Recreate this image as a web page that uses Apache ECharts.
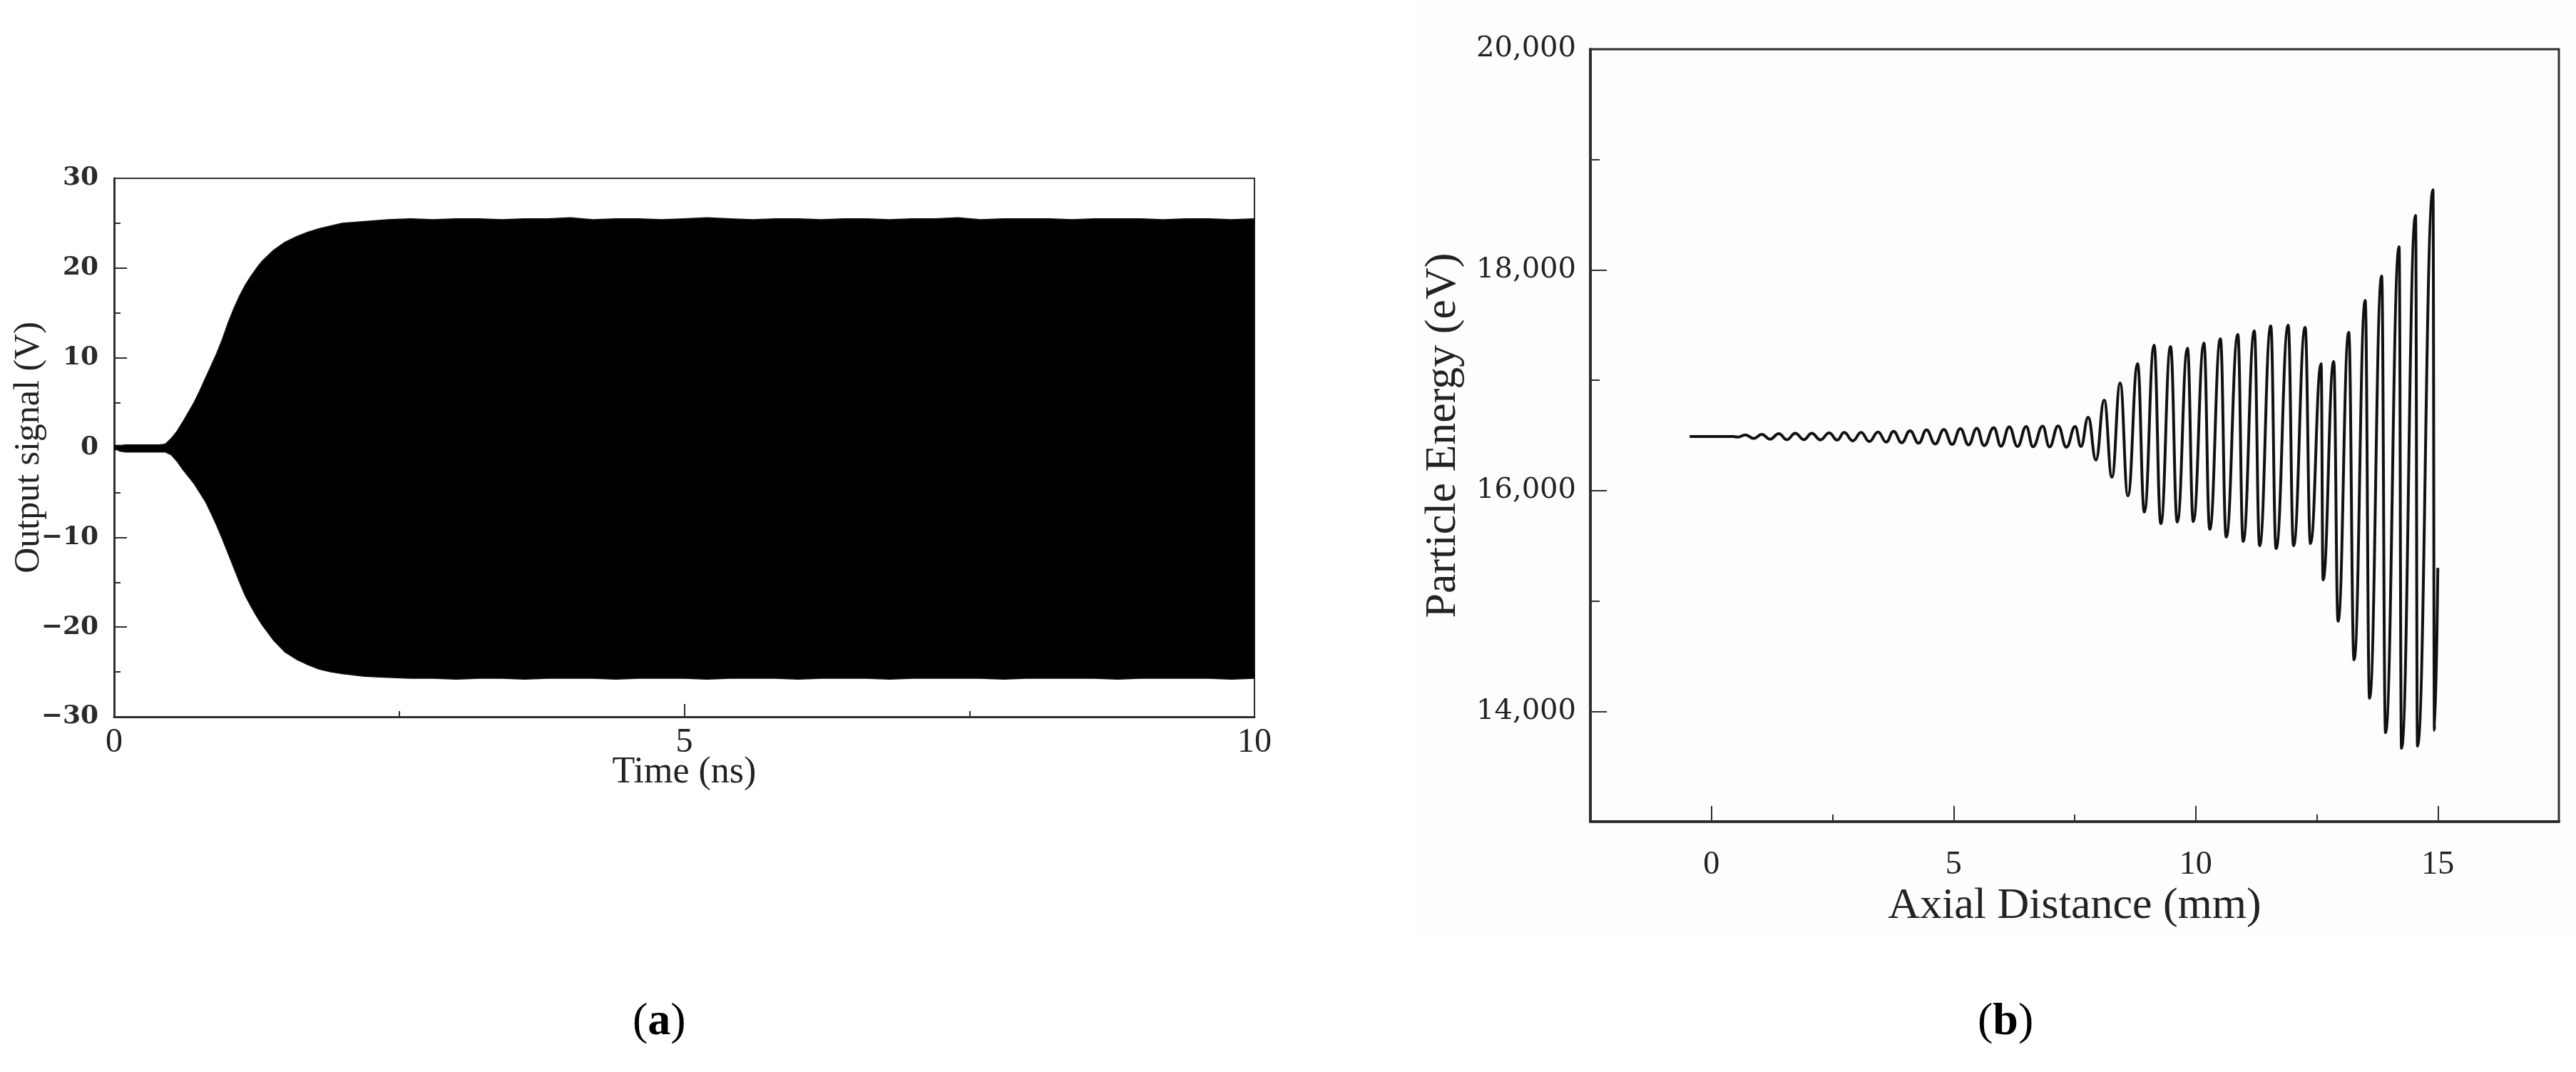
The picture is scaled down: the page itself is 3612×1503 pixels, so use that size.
<!DOCTYPE html>
<html>
<head>
<meta charset="utf-8">
<script src="https://cdn.jsdelivr.net/npm/echarts@6/dist/echarts.min.js"></script>
<style>
html,body{margin:0;padding:0;background:#fff;}
#chart{width:3612px;height:1503px;}
</style>
</head>
<body>
<div id="chart"></div>
<script>
// ---------- Panel (a): output signal envelope ----------
const aTime = [0,0.05,0.1,0.2,0.3,0.4,0.45,0.5,0.55,0.6,0.65,0.7,0.75,0.8,0.85,0.9,0.95,1.0,1.05,1.1,1.15,1.2,1.25,1.3,1.4,1.5,1.6,1.7,1.8,1.9,2.0,2.2,2.4,
  2.6,2.8,3.0,3.2,3.4,3.6,3.8,4.0,4.2,4.4,4.6,4.8,5.0,5.2,5.4,5.6,5.8,6.0,6.2,6.4,6.6,6.8,7.0,7.2,7.4,7.6,7.8,8.0,8.2,8.4,8.6,8.8,9.0,9.2,9.4,9.6,9.8,10.0];
const aUpper = [0,0.2,0.3,0.3,0.3,0.3,0.4,1.0,1.8,2.8,3.9,5.0,6.3,7.7,9.1,10.5,12.1,13.9,15.5,16.9,18.1,19.1,20.0,20.8,22.0,22.9,23.5,24.0,24.4,24.7,25.0,25.2,25.4,
  25.5,25.4,25.5,25.5,25.4,25.5,25.5,25.6,25.4,25.5,25.5,25.4,25.5,25.6,25.5,25.4,25.5,25.5,25.4,25.5,25.5,25.4,25.5,25.5,25.6,25.4,25.5,25.5,25.5,25.4,25.5,25.5,25.5,25.4,25.5,25.5,25.4,25.5];
const aLower = [0,-0.4,-0.5,-0.5,-0.5,-0.5,-0.5,-0.8,-1.5,-2.4,-3.2,-4.0,-5.0,-6.0,-7.3,-8.7,-10.2,-11.8,-13.4,-15.0,-16.5,-17.7,-18.8,-19.8,-21.5,-22.8,-23.6,-24.2,-24.7,-25.0,-25.2,-25.5,-25.6,
  -25.7,-25.7,-25.8,-25.7,-25.7,-25.8,-25.7,-25.7,-25.7,-25.8,-25.7,-25.7,-25.7,-25.8,-25.7,-25.7,-25.7,-25.8,-25.7,-25.7,-25.7,-25.8,-25.7,-25.7,-25.7,-25.7,-25.8,-25.7,-25.7,-25.7,-25.7,-25.8,-25.7,-25.7,-25.7,-25.7,-25.8,-25.7];
const aXTicks = [0, 5, 10];
const aYTicks = [-30, -20, -10, 0, 10, 20, 30];

// ---------- Panel (b): particle energy vs axial distance ----------
const bDist = [-0.45,0.45,0.55,
  0.70,0.87,1.04,1.21,1.39,1.56,1.73,1.91,2.07,2.25,2.43,2.60,2.74,2.92,3.09,3.26,3.44,3.61,3.76,3.93,4.10,4.28,4.44,4.62,4.80,4.97,5.14,5.31,5.48,5.63,5.83,5.98,
  6.15,6.32,6.50,6.64,6.84,6.98,7.16,7.33,7.51,7.63,7.78,7.94,8.11,8.27,8.44,8.60,8.80,8.94,9.14,9.28,9.48,9.62,9.83,9.95,10.17,10.29,10.51,10.63,
  10.87,10.98,11.21,11.32,11.55,11.66,11.91,12.02,12.26,12.37,12.59,12.63,12.85,12.94,13.16,13.27,13.50,13.59,13.84,13.92,14.20,14.25,14.54,14.58,14.90,14.93,15.0];
const bEnergy = [16490,16490,16485,
  16505,16473,16509,16466,16516,16462,16520,16462,16520,16460,16522,16458,16527,16451,16528,16445,16531,16440,16537,16434,16542,16430,16550,16423,16553,16419,16561,16415,16565,16408,16570,16402,
  16578,16400,16580,16398,16584,16396,16586,16394,16580,16400,16665,16277,16820,16122,16975,15953,17150,15805,17317,15701,17304,15714,17290,15720,17337,15650,17376,15579,
  17414,15540,17447,15501,17492,15475,17498,15501,17479,15520,17149,15191,17169,14816,17434,14467,17724,14118,17944,13807,18210,13665,18494,13684,18727,13827,15300];
const bXTicks = [0, 5, 10, 15];
const bXMinorTicks = [2.5, 7.5, 12.5];
const bYTicks = [14000, 16000, 18000, 20000];
const bYMinorTicks = [15000, 17000, 19000];

const chart = echarts.init(document.getElementById('chart'), null, {renderer: 'canvas'});
const axisCol = '#2e2e2e';
const serif = 'Liberation Serif';

function minusFmt(v) { return v < 0 ? '\u2212' + Math.abs(v) : String(v); }
function commaFmt(v) { return String(v).replace(/\B(?=(\d{3})+(?!\d))/g, ','); }

const option = {
  animation: false,
  backgroundColor: '#ffffff',
  graphic: {
    elements: [
      {type: 'rect', z: -100, silent: true, shape: {x: 1983, y: 0, width: 1629, height: 1314}, style: {fill: '#fdfdfd'}}
    ]
  },
  title: [
    {text: '({b|a})', left: 882, top: 1396,
     textStyle: {fontFamily: serif, fontSize: 64, fontWeight: 'normal', color: '#000',
       rich: {b: {fontFamily: serif, fontSize: 64, fontWeight: 'bold', color: '#000'}}}},
    {text: '({b|b})', left: 2768, top: 1396,
     textStyle: {fontFamily: serif, fontSize: 64, fontWeight: 'normal', color: '#000',
       rich: {b: {fontFamily: serif, fontSize: 64, fontWeight: 'bold', color: '#000'}}}}
  ],
  grid: [
    {left: 160, top: 250, width: 1599, height: 755, show: true, borderColor: axisCol, borderWidth: 2, backgroundColor: 'transparent'},
    {left: 2230, top: 69, width: 1358, height: 1083, show: true, borderColor: axisCol, borderWidth: 3, backgroundColor: 'transparent'}
  ],
  xAxis: [
    {gridIndex: 0, type: 'value', min: 0, max: 10, interval: 5,
     axisLine: {onZero: false, lineStyle: {color: axisCol, width: 3}},
     axisTick: {inside: true, length: 18, lineStyle: {color: axisCol, width: 2}},
     minorTick: {show: true, splitNumber: 2, length: 8, lineStyle: {color: axisCol, width: 2}},
     splitLine: {show: false},
     axisLabel: {margin: 12, fontFamily: serif, fontSize: 48, color: '#222'},
     name: 'Time (ns)', nameLocation: 'middle', nameGap: 52, nameMoveOverlap: false,
     nameTextStyle: {fontFamily: serif, fontSize: 52, color: '#222'}},
    {gridIndex: 1, type: 'value', min: -2.5, max: 17.5,
     axisLine: {onZero: false, lineStyle: {color: axisCol, width: 4}},
     axisTick: {inside: true, length: 22, customValues: bXTicks, lineStyle: {color: axisCol, width: 2}},
     splitLine: {show: false},
     axisLabel: {customValues: bXTicks, margin: 38, fontFamily: serif, fontSize: 46, color: '#222'},
     name: 'Axial Distance (mm)', nameLocation: 'middle', nameGap: 88, nameMoveOverlap: false,
     nameTextStyle: {fontFamily: serif, fontSize: 62, color: '#222'}},
    {gridIndex: 1, type: 'value', min: -2.5, max: 17.5, position: 'bottom',
     axisLine: {show: false, onZero: false},
     axisTick: {inside: true, length: 10, customValues: bXMinorTicks, lineStyle: {color: axisCol, width: 2}},
     axisLabel: {show: false}, splitLine: {show: false}}
  ],
  yAxis: [
    {gridIndex: 0, type: 'value', min: -30, max: 30, interval: 10,
     axisLine: {onZero: false, lineStyle: {color: axisCol, width: 3}},
     axisTick: {inside: true, length: 18, lineStyle: {color: axisCol, width: 2}},
     minorTick: {show: true, splitNumber: 2, length: 9, lineStyle: {color: axisCol, width: 2}},
     splitLine: {show: false},
     axisLabel: {margin: 22, fontFamily: 'DejaVu Serif', fontWeight: 'bold', fontSize: 36, color: '#2a2a2a', formatter: minusFmt},
     name: 'Output signal (V)', nameLocation: 'middle', nameGap: 94, nameMoveOverlap: false,
     nameTextStyle: {fontFamily: serif, fontSize: 50, color: '#222'}},
    {gridIndex: 1, type: 'value', min: 13000, max: 20000,
     axisLine: {onZero: false, lineStyle: {color: axisCol, width: 4}},
     axisTick: {inside: true, length: 23, customValues: bYTicks, lineStyle: {color: axisCol, width: 2}},
     splitLine: {show: false},
     axisLabel: {customValues: bYTicks, margin: 20, fontFamily: 'DejaVu Serif', fontSize: 40, color: '#222', formatter: commaFmt},
     name: 'Particle Energy (eV)', nameLocation: 'middle', nameGap: 175, nameMoveOverlap: false,
     nameTextStyle: {fontFamily: serif, fontSize: 62, color: '#222'}},
    {gridIndex: 1, type: 'value', min: 13000, max: 20000, position: 'left',
     axisLine: {show: false, onZero: false},
     axisTick: {inside: true, length: 13, customValues: bYMinorTicks, lineStyle: {color: axisCol, width: 2}},
     axisLabel: {show: false}, splitLine: {show: false}}
  ],
  series: [
    {type: 'line', xAxisIndex: 0, yAxisIndex: 0, showSymbol: false, silent: true,
     data: aTime.map((t, i) => [t, aUpper[i]]),
     lineStyle: {color: '#111', width: 1.5}, areaStyle: {color: '#000', opacity: 1, origin: -0.3}},
    {type: 'line', xAxisIndex: 0, yAxisIndex: 0, showSymbol: false, silent: true,
     data: aTime.map((t, i) => [t, aLower[i]]),
     lineStyle: {color: '#111', width: 1.5}, areaStyle: {color: '#000', opacity: 1, origin: 0.3}},
    {type: 'line', xAxisIndex: 1, yAxisIndex: 1, showSymbol: false, silent: true,
     smooth: 0.45, smoothMonotone: 'x',
     data: bDist.map((d, i) => [d, bEnergy[i]]),
     lineStyle: {color: '#111', width: 4}}
  ]
};
chart.setOption(option);
</script>
</body>
</html>
